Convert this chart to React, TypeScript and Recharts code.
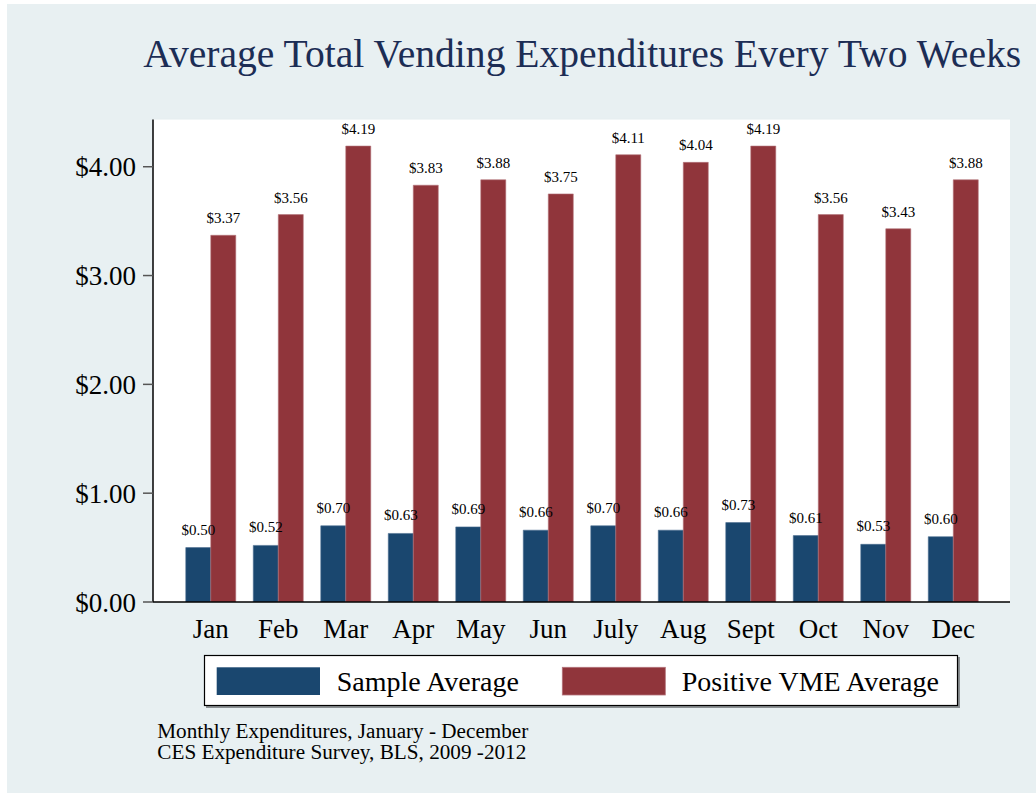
import { BarChart, Bar, XAxis, YAxis, CartesianGrid, LabelList } from "recharts";

const months = ["Jan", "Feb", "Mar", "Apr", "May", "Jun", "July", "Aug", "Sept", "Oct", "Nov", "Dec"];
const sampleAverage = [0.5, 0.52, 0.7, 0.63, 0.69, 0.66, 0.7, 0.66, 0.73, 0.61, 0.53, 0.6];
const positiveVmeAverage = [3.37, 3.56, 4.19, 3.83, 3.88, 3.75, 4.11, 4.04, 4.19, 3.56, 3.43, 3.88];
const yTicks = [0, 1, 2, 3, 4];

const data = months.map((m, i) => ({
  month: m,
  sample: sampleAverage[i],
  positive: positiveVmeAverage[i],
}));

const SERIF = '"Liberation Serif", "Times New Roman", serif';
const BLUE = "#1A476F";
const RED = "#90353B";
const BG = "#E8F0F2";

const money = (v: any) => `$${Number(v).toFixed(2)}`;

export default function App() {
  return (
    <div
      style={{
        position: "absolute",
        left: 7,
        top: 4,
        width: 1029,
        height: 789,
        background: BG,
        fontFamily: SERIF,
      }}
    >
      <BarChart
        width={1029}
        height={789}
        data={data}
        margin={{ top: 115.5, right: 26, left: 0, bottom: 141 }}
        barCategoryGap="13%"
        barGap={0}
      >
        <rect x={146} y={115.5} width={857} height={482.5} fill="#fff" />
        <CartesianGrid vertical={false} stroke="#E3ECEF" strokeWidth={1.5} />
        <XAxis
          dataKey="month"
          height={50}
          padding={{ left: 24, right: 23 }}
          tickLine={false}
          tickSize={6}
          tickMargin={11}
          axisLine={{ stroke: "#000", strokeWidth: 1.5 }}
          tick={{ fill: "#000", fontSize: 27, fontFamily: SERIF }}
        />
        <YAxis
          width={146}
          domain={[0, 4.434]}
          ticks={yTicks}
          allowDataOverflow
          tickFormatter={money}
          tickSize={10}
          tickMargin={7}
          axisLine={{ stroke: "#000", strokeWidth: 1.5 }}
          tickLine={{ stroke: "#555", strokeWidth: 1.5 }}
          tick={{ fill: "#000", fontSize: 27, fontFamily: SERIF }}
        />
        <Bar dataKey="sample" fill={BLUE} stroke="#4d6f90" strokeWidth={0.6} isAnimationActive={false}>
          <LabelList
            dataKey="sample"
            position="top"
            offset={13}
            formatter={money}
            style={{ fill: "#000", fontSize: 15, fontFamily: SERIF }}
          />
        </Bar>
        <Bar dataKey="positive" fill={RED} stroke="#b3737a" strokeWidth={0.6} isAnimationActive={false}>
          <LabelList
            dataKey="positive"
            position="top"
            offset={12}
            formatter={money}
            style={{ fill: "#000", fontSize: 15, fontFamily: SERIF }}
          />
        </Bar>
      </BarChart>
      <svg
        width={1029}
        height={789}
        style={{ position: "absolute", left: 0, top: 0, pointerEvents: "none" }}
        fontFamily={SERIF}
      >
        <text x={136.3} y={62.7} fontSize={39.6} fill="#1C2D55">
          Average Total Vending Expenditures Every Two Weeks
        </text>
        <rect x={199} y={653} width={754} height={51} fill="#8a8f92" />
        <rect x={197.5} y={651.5} width={753} height={50} fill="#fff" stroke="#000" strokeWidth={1.2} />
        <rect x={209.7} y={663.3} width={103.3} height={27.7} fill={BLUE} />
        <text x={329.7} y={686.5} fontSize={28} fill="#000">
          Sample Average
        </text>
        <rect x={555.3} y={663.3} width={103} height={27.7} fill={RED} stroke="#b3737a" strokeWidth={0.8} />
        <text x={674.7} y={686.5} fontSize={28} fill="#000">
          Positive VME Average
        </text>
        <text x={150.3} y={733.8} fontSize={20} fill="#000" textLength={371} lengthAdjust="spacingAndGlyphs">
          Monthly Expenditures, January - December
        </text>
        <text x={150.3} y={755} fontSize={20} fill="#000" textLength={369} lengthAdjust="spacingAndGlyphs">
          CES Expenditure Survey, BLS, 2009 -2012
        </text>
      </svg>
    </div>
  );
}
